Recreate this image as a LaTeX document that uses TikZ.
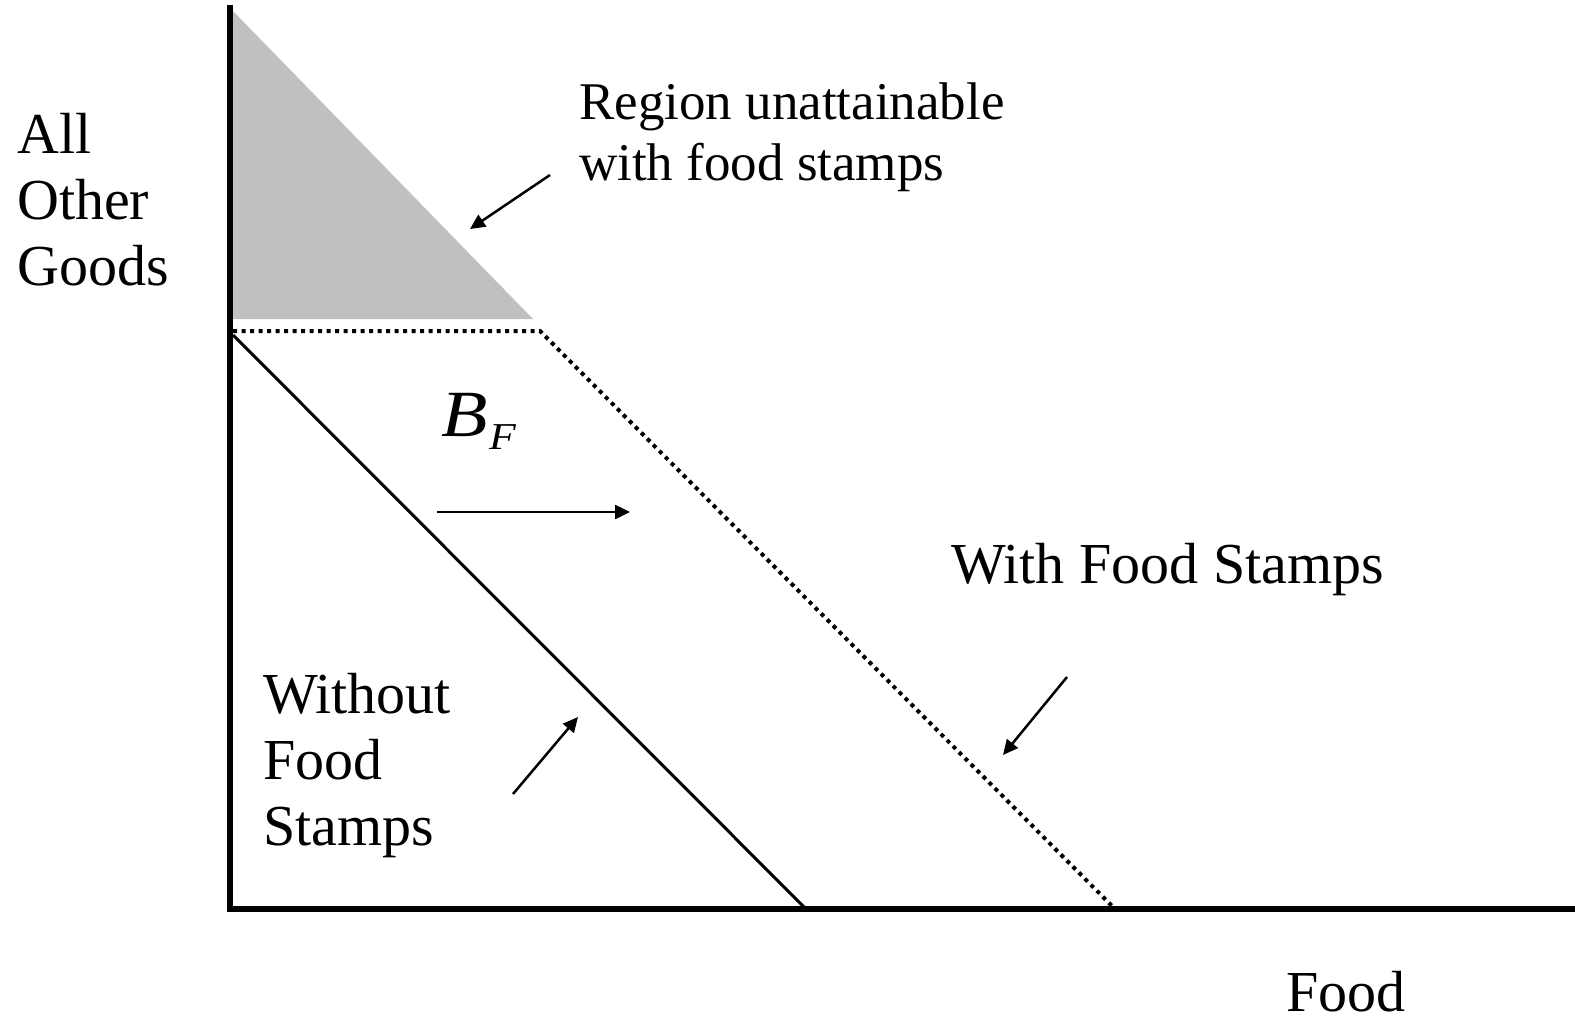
\documentclass[tikz,border=0pt]{standalone}
\usepackage{fontspec}
\setmainfont{Liberation Serif}
\usetikzlibrary{arrows.meta}
\tikzset{
  axisline/.style={line width=6pt},
  budget/.style={line width=3pt},
  dotline/.style={line width=4pt, dash pattern=on 4pt off 4.5pt},
  pointer/.style={line width=2.5pt, -{Triangle[length=15pt,width=14pt]}},
  bigtext/.style={inner sep=0pt, font=\fontsize{58}{66}\selectfont, align=left},
  midtext/.style={inner sep=0pt, font=\fontsize{53}{61}\selectfont, align=left},
}
\begin{document}
\begin{tikzpicture}[x=1pt,y=-1pt]
\useasboundingbox (0,0) rectangle (1575,1020);
% key points
\coordinate (ytop) at (230,8);
\coordinate (origin) at (230,909);
\coordinate (xend) at (1575,909);
\coordinate (shadeR) at (533,319);
\coordinate (shadeL) at (230,319);
\coordinate (kinkL) at (233,331);
\coordinate (kink) at (540,331);
\coordinate (wfsX) at (1115,909);
\coordinate (nfsY) at (233,335);
\coordinate (nfsX) at (806,909);
% shaded region
\fill[fill={rgb,255:red,192;green,192;blue,192}] (ytop) -- (shadeR) -- (shadeL) -- cycle;
% budget lines
\draw[budget] (nfsY) -- (nfsX);
\draw[dotline] (kinkL) -- (kink) -- (wfsX);
% axes
\draw[axisline] (230,5) -- (230,912);
\draw[axisline] (227,909) -- (xend);
% labels
\node[bigtext, anchor=north west] (yl) at (17,113.5) {All\\Other\\Goods};
\node[bigtext, anchor=base west] (xl) at (1286,1011) {Food};
\node[midtext, anchor=north west] (reg) at (579,83) {Region unattainable\\with food stamps};
\node[bigtext, anchor=base west] (wfs) at (951,583) {With Food Stamps};
\node[bigtext, anchor=north west] (nfs) at (263,673.5) {Without\\Food\\Stamps};
\node[inner sep=0pt, anchor=base west] (bf) at (441,436) {\scalebox{1.15}[1]{\fontsize{66}{66}\selectfont\itshape B\kern2pt\raisebox{-13pt}{\fontsize{38}{38}\selectfont F}}};
% pointer arrows
\coordinate (a1s) at (550,175); \coordinate (a1e) at (470,229);
\coordinate (a2s) at (437,512); \coordinate (a2e) at (630,512);
\coordinate (a3s) at (1067,677); \coordinate (a3e) at (1003,755);
\coordinate (a4s) at (513,794); \coordinate (a4e) at (578,717);
\draw[pointer] (a1s) -- (a1e);
\draw[pointer] (a2s) -- (a2e);
\draw[pointer] (a3s) -- (a3e);
\draw[pointer] (a4s) -- (a4e);
\end{tikzpicture}
\end{document}
